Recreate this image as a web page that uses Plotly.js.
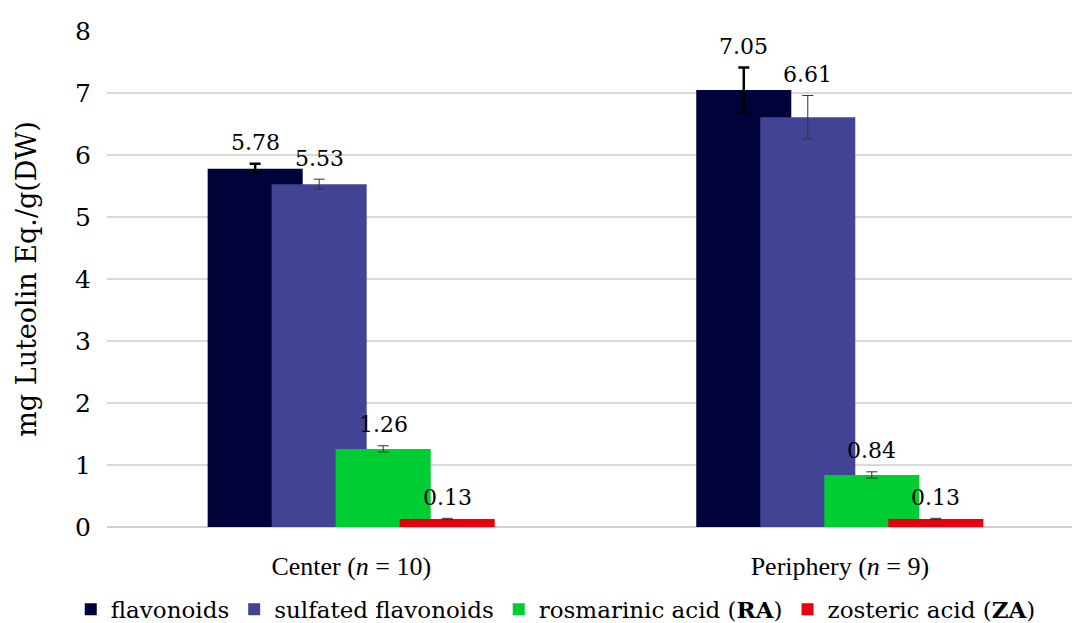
<!DOCTYPE html>
<html>
<head>
<meta charset="utf-8">
<script src="https://cdn.plot.ly/plotly-3.0.1.min.js"></script>
<style>html,body{margin:0;padding:0;background:#fff;}#chart{width:1072px;height:623px;}</style>
</head>
<body>
<div id="chart"></div>
<script>
var categories = ["Center (<i>n</i> = 10)", "Periphery (<i>n</i> = 9)"];
var seriesNames = ["flavonoids", "sulfated flavonoids", "rosmarinic acid (<b>RA</b>)", "zosteric acid (<b>ZA</b>)"];
var flavonoids = [5.78, 7.05];
var sulfatedFlavonoids = [5.53, 6.61];
var rosmarinicAcid = [1.26, 0.84];
var zostericAcid = [0.13, 0.13];
var flavonoidsErr = [0.08, 0.36];
var sulfatedErr = [0.08, 0.35];
var rosmarinicErr = [0.05, 0.05];
var zostericErr = [0.01, 0.01];
var yTicks = [0, 1, 2, 3, 4, 5, 6, 7, 8];

var values = [flavonoids, sulfatedFlavonoids, rosmarinicAcid, zostericAcid];
var errors = [flavonoidsErr, sulfatedErr, rosmarinicErr, zostericErr];
var colors = ["#02023a", "#434396", "#00cc33", "#e8000f"];
var errColors = ["#000000", "#333333", "#333333", "#333333"];
var errThick = [2.5, 1, 1, 1];
var barWidth = 0.1945;
var step = 0.131;
var start = -0.294;
var xs = categories.map(function (c, i) { return i; });

var serif = "DejaVu Serif, serif";
var traces = [];
var annotations = [];
for (var s = 0; s < values.length; s++) {
  var off = start + s * step;
  traces.push({
    type: "bar",
    name: seriesNames[s],
    x: xs,
    y: values[s],
    offset: off,
    width: barWidth,
    marker: {color: colors[s], line: {width: 0}},
    error_y: {type: "data", array: errors[s], visible: true, color: errColors[s], thickness: errThick[s], width: 5.5},
    hoverinfo: "y"
  });
  for (var k = 0; k < xs.length; k++) {
    annotations.push({
      x: xs[k] + off + barWidth / 2,
      y: values[s][k] + errors[s][k],
      xref: "x", yref: "y",
      text: values[s][k].toFixed(2),
      showarrow: false,
      yanchor: "middle",
      yshift: 21,
      font: {family: serif, size: 22, color: "#000"}
    });
  }
}

var layout = {
  width: 1072, height: 623,
  margin: {l: 107, r: 0, t: 31, b: 96},
  paper_bgcolor: "#ffffff", plot_bgcolor: "#ffffff",
  barmode: "overlay",
  showlegend: true,
  legend: {
    orientation: "h", xref: "container", yref: "container",
    x: 0.066, y: 0.022, xanchor: "left", yanchor: "middle",
    font: {family: serif, size: 23, color: "#000"},
    traceorder: "normal", itemclick: false
  },
  xaxis: {
    type: "linear",
    range: [-0.5, 1.475],
    tickvals: xs, ticktext: categories,
    showgrid: false, zeroline: false, showline: false, ticks: "",
    ticklabelstandoff: 21,
    tickfont: {family: "Liberation Serif, serif", size: 26, color: "#000"}
  },
  yaxis: {
    range: [0, 8],
    tickvals: yTicks,
    showgrid: true, gridcolor: "#d9d9d9", gridwidth: 2,
    zeroline: true, zerolinecolor: "#d0d0d0", zerolinewidth: 2,
    showline: false, ticks: "",
    ticklabelstandoff: 15,
    tickfont: {family: serif, size: 25, color: "#000"},
    title: {text: "mg Luteolin Eq./g(DW)", font: {family: serif, size: 27, color: "#000"}, standoff: 30}
  },
  annotations: annotations
};

Plotly.newPlot("chart", traces, layout, {staticPlot: true, displayModeBar: false});
</script>
</body>
</html>
